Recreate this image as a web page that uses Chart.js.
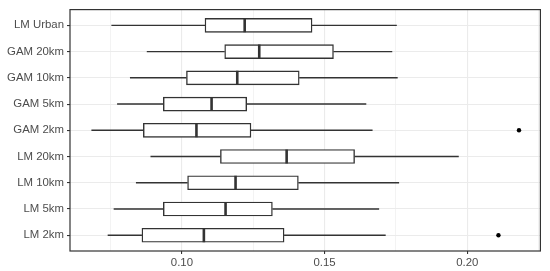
<!DOCTYPE html>
<html><head><meta charset="utf-8">
<script src="https://cdn.jsdelivr.net/npm/chart.js@4/dist/chart.umd.min.js"></script>
<style>html,body{margin:0;padding:0;background:#fff}#wrap{width:550px;height:271px}</style>
</head><body><div id="wrap"><canvas id="c" width="550" height="271"></canvas></div>
<script>
const categories = ['LM Urban','GAM 20km','GAM 10km','GAM 5km','GAM 2km','LM 20km','LM 10km','LM 5km','LM 2km'];
const whiskerLow  = [0.0753, 0.0877, 0.0818, 0.0773, 0.0683, 0.0890, 0.0839, 0.0761, 0.0740];
const q1          = [0.1081, 0.1150, 0.1016, 0.0935, 0.0865, 0.1135, 0.1020, 0.0935, 0.0860];
const median      = [0.1220, 0.1271, 0.1194, 0.1104, 0.1051, 0.1367, 0.1188, 0.1153, 0.1077];
const q3          = [0.1456, 0.1531, 0.1411, 0.1227, 0.1242, 0.1605, 0.1408, 0.1317, 0.1358];
const whiskerHigh = [0.1753, 0.1737, 0.1756, 0.1646, 0.1668, 0.1970, 0.1761, 0.1691, 0.1714];
const outlierCats   = ['GAM 2km', 'LM 2km'];
const outlierValues = [0.2181, 0.2109];
const xTicks = [0.075, 0.10, 0.125, 0.15, 0.175, 0.20, 0.225];
const xMajor = [0.10, 0.15, 0.20];

const isMajor = v => xMajor.some(m => Math.abs(m - v) < 1e-9);

const whiskerData = [];
categories.forEach((c, i) => {
  whiskerData.push({x: whiskerLow[i], y: i}, {x: q1[i], y: i}, {x: null, y: null});
  whiskerData.push({x: q3[i], y: i}, {x: whiskerHigh[i], y: i}, {x: null, y: null});
});

const panelBorder = {
  id: 'panelBorder',
  afterDraw(chart) {
    const a = chart.chartArea, ctx = chart.ctx;
    ctx.save();
    ctx.strokeStyle = '#333333';
    ctx.lineWidth = 1.2;
    ctx.strokeRect(a.left, a.top, a.right - a.left, a.bottom - a.top);
    ctx.restore();
  }
};

const font = {family: "'Liberation Sans', Arial, sans-serif", size: 11.4};
const noPad = s => { s.paddingTop = 0; s.paddingBottom = 0; s.paddingLeft = 0; s.paddingRight = 0; };

new Chart(document.getElementById('c'), {
  type: 'bar',
  data: {
    datasets: [
      {
        type: 'line', indexAxis: 'y', order: 3,
        data: whiskerData, borderColor: '#333333', borderWidth: 1.4,
        pointRadius: 0, spanGaps: false, fill: false
      },
      {
        type: 'bar', indexAxis: 'y', order: 2,
        data: categories.map((c, i) => ({y: i, x: [q1[i], q3[i]]})),
        backgroundColor: '#ffffff', borderColor: '#333333', borderWidth: 1.4,
        borderSkipped: false, barThickness: 14, grouped: false
      },
      {
        type: 'line', indexAxis: 'y', order: 1, showLine: false,
        data: categories.map((c, i) => ({x: median[i], y: i})),
        pointStyle: 'line', pointRadius: 7, pointRotation: 90,
        pointBorderWidth: 2.6, pointBorderColor: '#333333', borderColor: '#333333'
      },
      {
        type: 'line', indexAxis: 'y', order: 0, showLine: false,
        data: outlierCats.map((c, k) => ({x: outlierValues[k], y: categories.indexOf(c)})),
        pointStyle: 'circle', pointRadius: 2.2, pointBorderWidth: 0,
        pointBackgroundColor: '#000000', borderColor: '#000000'
      }
    ]
  },
  options: {
    responsive: false,
    animation: false,
    devicePixelRatio: 1,
    indexAxis: 'y',
    layout: {padding: {top: 7, right: 8, left: 0, bottom: 0}},
    plugins: {legend: {display: false}, tooltip: {enabled: false}},
    scales: {
      x: {
        type: 'linear', position: 'bottom', min: 0.0608, max: 0.2256, bounds: 'data', offset: false,
        afterBuildTicks: s => { s.ticks = xTicks.map(v => ({value: v})); },
        afterFit: s => { s.height = 20; noPad(s); },
        border: {display: false},
        grid: {
          offset: false,
          color: '#ebebeb',
          lineWidth: ctx => isMajor(ctx.tick.value) ? 1.1 : 0.6,
          tickColor: ctx => isMajor(ctx.tick.value) ? '#333333' : 'rgba(0,0,0,0)',
          tickLength: 3, tickWidth: 1.1
        },
        ticks: {
          autoSkip: false, maxRotation: 0, padding: 2, color: '#4d4d4d', font,
          callback: v => isMajor(v) ? v.toFixed(2) : ''
        }
      },
      y: {
        type: 'linear', position: 'left', min: -0.6, max: 8.6, reverse: true, bounds: 'data', offset: false,
        afterBuildTicks: s => { s.ticks = categories.map((c, i) => ({value: i})); },
        afterFit: s => { s.width = 70; noPad(s); },
        border: {display: false},
        grid: {offset: false, color: '#ebebeb', lineWidth: 1.1, tickColor: '#333333', tickLength: 3, tickWidth: 1.1},
        ticks: {
          autoSkip: false, padding: 3, color: '#4d4d4d', font,
          callback: v => categories[v]
        }
      }
    }
  },
  plugins: [panelBorder]
});
</script>
</body></html>
